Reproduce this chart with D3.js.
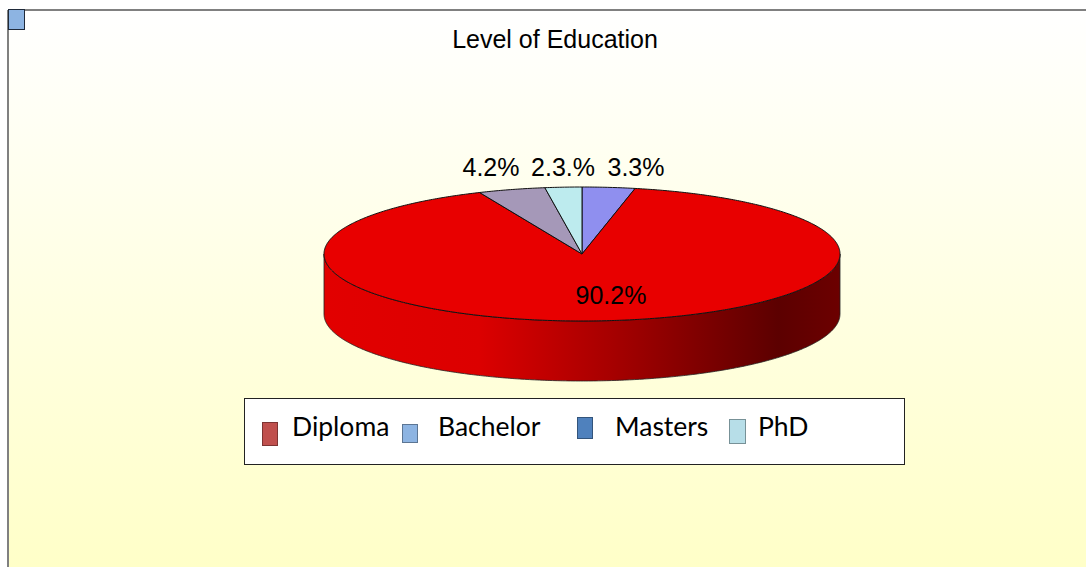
<!DOCTYPE html>
<html>
<head>
<meta charset="utf-8">
<script src="https://cdn.jsdelivr.net/npm/d3@7"></script>
<style>
  body { margin: 0; padding: 0; overflow: hidden; background: #fff; }
</style>
</head>
<body>
<div id="chart"></div>
<script>
// data
var categories = ["Diploma", "Bachelor", "Masters", "PhD"];
var values = [90.2, 3.3, 4.2, 2.3];
var labels = ["90.2%", "3.3%", "4.2%", "2.3.%"];
var sliceColors = ["#e80000", "#8f8fef", "#a598b8", "#bdebee"];
var legendColors = ["#c0504d", "#8db4e2", "#4f81bd", "#b7dee8"];
// clockwise order of slices, starting at 12 o'clock
var pieOrder = ["Bachelor", "Diploma", "Masters", "PhD"];

var W = 1086, H = 567;
var cx = 582, cy = 254, rx = 258, ry = 67, depth = 60;

var svg = d3.select("#chart").append("svg")
    .attr("width", W).attr("height", H);

var defs = svg.append("defs");
var bg = defs.append("linearGradient").attr("id", "bg")
    .attr("x1", 0).attr("y1", 0).attr("x2", 0).attr("y2", 1);
bg.append("stop").attr("offset", "0%").attr("stop-color", "#ffffff");
bg.append("stop").attr("offset", "100%").attr("stop-color", "#ffffc8");

var side = defs.append("linearGradient").attr("id", "side")
    .attr("gradientUnits", "userSpaceOnUse")
    .attr("x1", cx - rx).attr("y1", 0).attr("x2", cx + rx).attr("y2", 0);
side.append("stop").attr("offset", "0%").attr("stop-color", "#e20000");
side.append("stop").attr("offset", "30%").attr("stop-color", "#dc0000");
side.append("stop").attr("offset", "55%").attr("stop-color", "#a80000");
side.append("stop").attr("offset", "88%").attr("stop-color", "#5c0000");
side.append("stop").attr("offset", "100%").attr("stop-color", "#6c0000");

// background + frame
svg.append("rect").attr("x", 0).attr("y", 0).attr("width", W).attr("height", H)
    .attr("fill", "#ffffff");
svg.append("rect").attr("x", 8).attr("y", 10).attr("width", W - 8).attr("height", H - 10)
    .attr("fill", "url(#bg)");
svg.append("line").attr("x1", 8).attr("x2", W).attr("y1", 10).attr("y2", 10)
    .attr("stroke", "#808080").attr("stroke-width", 2);
svg.append("line").attr("x1", 8).attr("x2", 8).attr("y1", 10).attr("y2", H)
    .attr("stroke", "#808080").attr("stroke-width", 2);
svg.append("rect").attr("x", 8.5).attr("y", 9.5).attr("width", 16).attr("height", 20)
    .attr("fill", "#8db4e2").attr("stroke", "#1f2a3a").attr("stroke-width", 1);

// title
svg.append("text").attr("x", 555).attr("y", 48)
    .attr("text-anchor", "middle")
    .attr("font-family", "Liberation Sans, Arial, sans-serif")
    .attr("font-size", 25).attr("fill", "#000")
    .text("Level of Education");

// pie layout
var ordered = pieOrder.map(function (c) {
    var i = categories.indexOf(c);
    return { name: c, value: values[i], label: labels[i], color: sliceColors[i] };
});
var pie = d3.pie().sort(null).value(function (d) { return d.value; });
var arcs = pie(ordered);

function px(a) { return cx + rx * Math.sin(a); }
function py(a) { return cy - ry * Math.cos(a); }

function arcPoints(a0, a1, dy) {
    var n = Math.max(2, Math.ceil(Math.abs(a1 - a0) / 0.01));
    var pts = [];
    for (var k = 0; k <= n; k++) {
        var a = a0 + (a1 - a0) * k / n;
        pts.push([px(a), py(a) + dy]);
    }
    return pts;
}
var line = d3.line();

var pieG = svg.append("g");

// side walls (front half only)
arcs.forEach(function (d) {
    var a0 = Math.max(d.startAngle, Math.PI / 2);
    var a1 = Math.min(d.endAngle, 3 * Math.PI / 2);
    if (a1 <= a0) return;
    var top = arcPoints(a0, a1, 0);
    var bottom = arcPoints(a1, a0, depth);
    pieG.append("path")
        .attr("d", line(top.concat(bottom)) + "Z")
        .attr("fill", d.data.name == "Diploma" ? "url(#side)" : d3.color(d.data.color).darker(1))
        .attr("stroke", "#222").attr("stroke-width", 0.8);
});

// top faces
arcs.forEach(function (d) {
    var pts = [[cx, cy]].concat(arcPoints(d.startAngle, d.endAngle, 0));
    pieG.append("path")
        .attr("d", line(pts) + "Z")
        .attr("fill", d.data.color)
        .attr("stroke", "#111").attr("stroke-width", 1)
        .attr("stroke-linejoin", "round");
});

// labels
var labelPos = {
    "Diploma": [611, 304],
    "Bachelor": [636, 176],
    "Masters": [491, 176],
    "PhD": [563, 176]
};
arcs.forEach(function (d) {
    var p = labelPos[d.data.name];
    svg.append("text").attr("x", p[0]).attr("y", p[1])
        .attr("text-anchor", "middle")
        .attr("font-family", "Liberation Sans, Arial, sans-serif")
        .attr("font-size", 25).attr("fill", "#000")
        .text(d.data.label);
});

// legend
var lg = svg.append("g");
lg.append("rect").attr("x", 244.5).attr("y", 398.5).attr("width", 660).attr("height", 66)
    .attr("fill", "#ffffff").attr("stroke", "#222").attr("stroke-width", 1);
var swatches = [[262, 422, 15, 23], [402, 424, 15, 18], [577, 417, 15, 21], [729, 419, 16, 24]];
var textX = [292, 438, 615, 758];
categories.forEach(function (c, i) {
    var s = swatches[i];
    lg.append("rect").attr("x", s[0] + 0.5).attr("y", s[1] + 0.5)
        .attr("width", s[2]).attr("height", s[3])
        .attr("fill", legendColors[i])
        .attr("stroke", d3.color(legendColors[i]).darker(1.2)).attr("stroke-width", 1);
    lg.append("text").attr("x", textX[i]).attr("y", 436)
        .attr("font-family", "Lato, 'Open Sans', sans-serif")
        .attr("font-size", 26.5).attr("fill", "#000")
        .text(c);
});
</script>
</body>
</html>
